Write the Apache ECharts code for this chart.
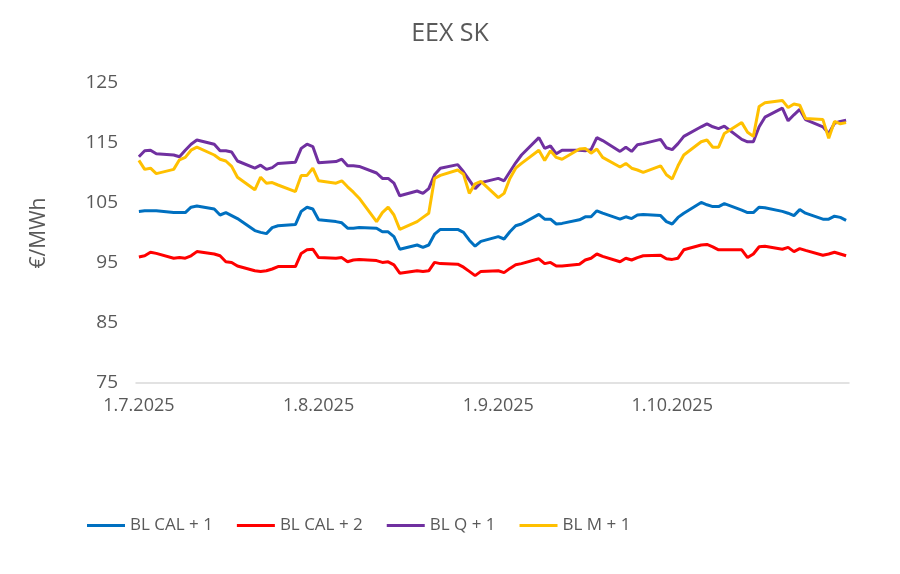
<!DOCTYPE html>
<html>
<head>
<meta charset="utf-8">
<title>EEX SK</title>
<script src="https://cdn.jsdelivr.net/npm/echarts@6/dist/echarts.min.js"></script>
<style>
  html, body { margin: 0; padding: 0; background: #fff; }
  #main { width: 900px; height: 574px; }
</style>
</head>
<body>
<div id="main"></div>
<script>
// trading days (the line skips weekends)
var tradeDates = [
  '1.7.2025', '2.7.2025', '3.7.2025', '4.7.2025', '7.7.2025', '8.7.2025', '9.7.2025', '10.7.2025', '11.7.2025',
  '14.7.2025', '15.7.2025', '16.7.2025', '17.7.2025', '18.7.2025', '21.7.2025', '22.7.2025', '23.7.2025', '24.7.2025',
  '25.7.2025', '28.7.2025', '29.7.2025', '30.7.2025', '31.7.2025',
  '1.8.2025', '4.8.2025', '5.8.2025', '6.8.2025', '7.8.2025', '8.8.2025', '11.8.2025', '12.8.2025', '13.8.2025',
  '14.8.2025', '15.8.2025', '18.8.2025', '19.8.2025', '20.8.2025', '21.8.2025', '22.8.2025', '25.8.2025', '26.8.2025',
  '27.8.2025', '28.8.2025', '29.8.2025',
  '1.9.2025', '2.9.2025', '3.9.2025', '4.9.2025', '5.9.2025', '8.9.2025', '9.9.2025', '10.9.2025', '11.9.2025',
  '12.9.2025', '15.9.2025', '16.9.2025', '17.9.2025', '18.9.2025', '19.9.2025', '22.9.2025', '23.9.2025', '24.9.2025',
  '25.9.2025', '26.9.2025', '29.9.2025', '30.9.2025',
  '1.10.2025', '2.10.2025', '3.10.2025', '6.10.2025', '7.10.2025', '8.10.2025', '9.10.2025', '10.10.2025', '13.10.2025',
  '14.10.2025', '15.10.2025', '16.10.2025', '17.10.2025', '20.10.2025', '21.10.2025', '22.10.2025', '23.10.2025',
  '24.10.2025', '27.10.2025', '28.10.2025', '29.10.2025', '30.10.2025', '31.10.2025'
];

var blCal1 = [
  103.6, 103.7, 103.7, 103.7, 103.4, 103.4, 103.4, 104.3, 104.5, 104.0, 103.0, 103.4, 102.9, 102.4, 100.4, 100.1,
  99.9, 100.9, 101.2, 101.4, 103.6, 104.3, 104.0,
  102.2, 101.9, 101.7, 100.8, 100.8, 100.9, 100.8, 100.2, 100.2, 99.4, 97.3, 98.0, 97.6, 98.0, 99.8, 100.6,
  100.6, 100.1, 98.8, 97.8, 98.6,
  99.4, 99.0, 100.2, 101.2, 101.5, 103.1, 102.3, 102.3, 101.5, 101.6, 102.2, 102.7, 102.7, 103.7, 103.3, 102.3,
  102.7, 102.4, 103.0, 103.1, 102.9, 101.9,
  101.5, 102.6, 103.3, 105.1, 104.7, 104.4, 104.4, 104.9, 103.8, 103.4, 103.4, 104.3, 104.2, 103.6, 103.3, 102.9,
  103.9, 103.3, 102.3, 102.3, 102.8, 102.6, 102.1
];

var blCal2 = [
  96.0, 96.2, 96.8, 96.6, 95.8, 95.9, 95.8, 96.2, 96.9, 96.5, 96.2, 95.2, 95.1, 94.5, 93.7, 93.6,
  93.7, 94.0, 94.4, 94.4, 96.6, 97.2, 97.3,
  95.9, 95.8, 95.9, 95.2, 95.5, 95.6, 95.4, 95.1, 95.2, 94.7, 93.3, 93.7, 93.6, 93.7, 95.1, 94.9,
  94.8, 94.3, 93.6, 92.9, 93.6,
  93.7, 93.4, 94.1, 94.7, 94.9, 95.7, 94.9, 95.1, 94.5, 94.5, 94.8, 95.5, 95.8, 96.5, 96.1, 95.2,
  95.8, 95.5, 95.9, 96.2, 96.3, 95.7,
  95.6, 95.8, 97.2, 98.0, 98.1, 97.7, 97.2, 97.2, 97.2, 95.9, 96.5, 97.7, 97.8, 97.3, 97.6, 96.9,
  97.4, 97.1, 96.3, 96.5, 96.8, 96.5, 96.2
];

var blQ1 = [
  112.7, 113.7, 113.8, 113.2, 113.0, 112.7, 113.8, 114.8, 115.5, 114.8, 113.7, 113.7, 113.5, 112.0, 110.8, 111.3,
  110.6, 110.9, 111.6, 111.8, 114.1, 114.8, 114.4,
  111.7, 111.9, 112.3, 111.2, 111.2, 111.1, 110.0, 109.1, 109.1, 108.3, 106.2, 107.0, 106.6, 107.4, 109.7, 110.8,
  111.4, 110.2, 108.8, 107.4, 108.4,
  109.1, 108.7, 110.2, 111.7, 113.0, 115.9, 114.1, 114.5, 113.2, 113.8, 113.8, 113.7, 113.9, 115.9, 115.4, 113.6,
  114.3, 113.6, 114.7, 114.9, 115.6, 114.2,
  113.9, 114.9, 116.1, 117.7, 118.2, 117.7, 117.4, 117.8, 115.6, 115.2, 115.2, 117.7, 119.3, 120.8, 118.7, 119.7,
  120.6, 118.9, 117.7, 116.6, 118.3, 118.6, 118.8
];

var blM1 = [
  112.1, 110.6, 110.8, 109.9, 110.6, 112.2, 112.6, 113.8, 114.3, 113.0, 112.3, 112.0, 111.1, 109.3, 107.2, 109.3,
  108.3, 108.4, 108.0, 106.9, 109.6, 109.6, 110.8,
  108.7, 108.3, 108.7, 107.7, 106.8, 105.8, 101.9, 103.4, 104.3, 103.0, 100.6, 101.9, 102.6, 103.3, 109.1, 109.6,
  110.5, 109.8, 106.6, 108.2, 108.6,
  105.9, 106.6, 109.1, 110.8, 111.6, 113.8, 112.1, 113.7, 112.6, 112.3, 114.0, 114.1, 113.3, 114.0, 112.6, 111.0,
  111.6, 110.8, 110.5, 110.1, 111.2, 109.7,
  109.0, 111.2, 113.0, 115.2, 115.5, 114.3, 114.3, 116.6, 118.4, 116.8, 116.1, 121.1, 121.7, 122.1, 120.9, 121.5,
  121.3, 119.1, 118.9, 115.8, 118.6, 118.2, 118.4
];

var seriesNames = ['BL CAL + 1', 'BL CAL + 2', 'BL Q + 1', 'BL M + 1'];
var seriesColors = ['#0070C0', '#FF0000', '#7030A0', '#FFC000'];
// legend text box widths, so the items sit where they do in the original
var legendTextWidths = [80, 80, 63, 80];

// every calendar day gets a slot on the axis, like Excel's date axis
var days = [];
for (var d = new Date(2025, 6, 1); d <= new Date(2025, 9, 31); d.setDate(d.getDate() + 1)) {
  days.push(d.getDate() + '.' + (d.getMonth() + 1) + '.' + d.getFullYear());
}

function onCalendar(values) {
  var byDate = {};
  tradeDates.forEach(function (t, i) { byDate[t] = values[i]; });
  return days.map(function (day) {
    return byDate[day] === undefined ? null : byDate[day];
  });
}

function isMonthStart(index, value) {
  return value.split('.')[0] === '1';
}

var myChart = echarts.init(document.getElementById('main'));

myChart.setOption({
  animation: false,
  textStyle: {
    fontFamily: 'Open Sans'
  },
  title: {
    text: 'EEX SK',
    left: 'center',
    top: 16,
    textStyle: {
      color: '#595959',
      fontSize: 25,
      fontWeight: 'normal',
      fontFamily: 'Open Sans'
    }
  },
  legend: {
    data: seriesNames.map(function (name, i) {
      return { name: name, textStyle: { width: legendTextWidths[i] } };
    }),
    left: 87,
    top: 517,
    padding: 0,
    icon: 'rect',
    itemWidth: 38,
    itemHeight: 3,
    itemGap: 24,
    textStyle: {
      color: '#595959',
      fontSize: 17,
      fontFamily: 'Open Sans'
    }
  },
  grid: {
    left: 136,
    right: 51,
    top: 83,
    bottom: 191
  },
  xAxis: {
    type: 'category',
    data: days,
    boundaryGap: true,
    axisLine: {
      lineStyle: { color: '#D9D9D9', width: 1.5 }
    },
    axisTick: {
      interval: isMonthStart,
      length: 6,
      lineStyle: { color: '#D9D9D9', width: 1.5 }
    },
    axisLabel: {
      interval: isMonthStart,
      margin: 14,
      color: '#595959',
      fontSize: 18,
      fontFamily: 'Open Sans'
    },
    splitLine: { show: false }
  },
  yAxis: {
    type: 'value',
    min: 75,
    max: 125,
    interval: 10,
    name: '€/MWh',
    nameLocation: 'middle',
    nameRotate: 90,
    nameGap: 86,
    nameTextStyle: {
      color: '#595959',
      fontSize: 21,
      fontFamily: 'Open Sans'
    },
    axisLine: { show: false },
    axisTick: { show: false },
    splitLine: { show: false },
    axisLabel: {
      margin: 18,
      color: '#595959',
      fontSize: 19,
      fontFamily: 'Open Sans'
    }
  },
  series: [blCal1, blCal2, blQ1, blM1].map(function (values, i) {
    return {
      name: seriesNames[i],
      type: 'line',
      data: onCalendar(values),
      connectNulls: true,
      showSymbol: false,
      symbol: 'none',
      color: seriesColors[i],
      lineStyle: { width: 3, color: seriesColors[i] }
    };
  })
});
</script>
</body>
</html>
